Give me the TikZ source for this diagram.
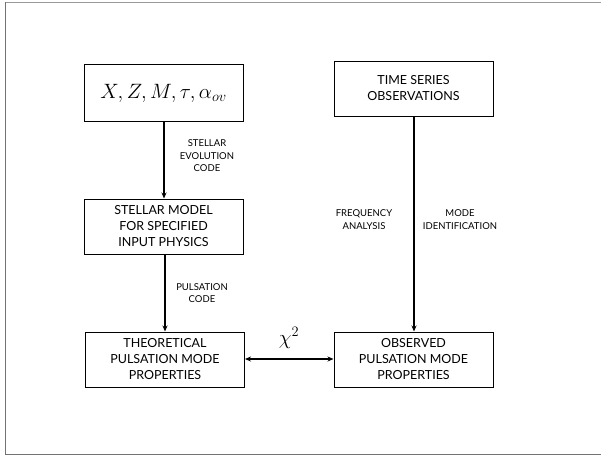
\documentclass[tikz,border=0pt]{standalone}
\usepackage{fontspec}
\setmainfont{Lato}
\usetikzlibrary{arrows.meta}
\begin{document}
\begin{tikzpicture}[x=1pt,y=-1pt,
  box/.style={draw=black,line width=1pt,minimum width=159pt,minimum height=55pt,inner sep=0pt,align=center,font=\fontsize{12.5}{16}\selectfont},
  lab/.style={align=center,font=\fontsize{9.5}{12.5}\selectfont,inner sep=0pt},
  conn/.style={line width=1.3pt,-{Stealth[length=6pt,width=5pt]}}]
\useasboundingbox (0,0) rectangle (601,456);
\draw[draw=black!40,line width=1pt] (610,2) -- (5,2);
\draw[draw=black!55,line width=1pt] (5,2) -- (5,454.5) -- (610,454.5);
\node[box,minimum height=57pt] (inp) at (163.5,93) {\fontsize{21}{24}\selectfont$X,Z,M,\tau,\alpha_{ov}$};
\node[box] (mod) at (163.5,226.5) {STELLAR MODEL\\FOR SPECIFIED\\INPUT PHYSICS};
\node[box] (the) at (165,359.5) {THEORETICAL\\PULSATION MODE\\PROPERTIES};
\node[box] (obs) at (413.5,359.5) {OBSERVED\\PULSATION MODE\\PROPERTIES};
\node[box] (tim) at (413.5,88.5) {TIME SERIES\\OBSERVATIONS};
\draw[conn] (inp.south -| 164,0) -- (mod.north -| 164,0);
\draw[conn] (mod.south -| 165,0) -- (the.north -| 165,0);
\draw[conn] (tim.south -| 414,0) -- (obs.north -| 414,0);
\draw[line width=1.3pt,{Stealth[length=6pt,width=5pt]}-{Stealth[length=6pt,width=5pt]}] (the.east |- 0,359) -- (obs.west |- 0,359);
\node[lab] (l1) at (207,156) {STELLAR\\EVOLUTION\\CODE};
\node[lab] (l2) at (202,293) {PULSATION\\CODE};
\node[lab] (l3) at (364,219.5) {FREQUENCY\\ANALYSIS};
\node[lab] (l4) at (460,219.5) {MODE\\IDENTIFICATION};
\node[inner sep=0pt] (chi) at (289,338) {\fontsize{22}{24}\selectfont$\chi^2$};
\end{tikzpicture}
\end{document}
